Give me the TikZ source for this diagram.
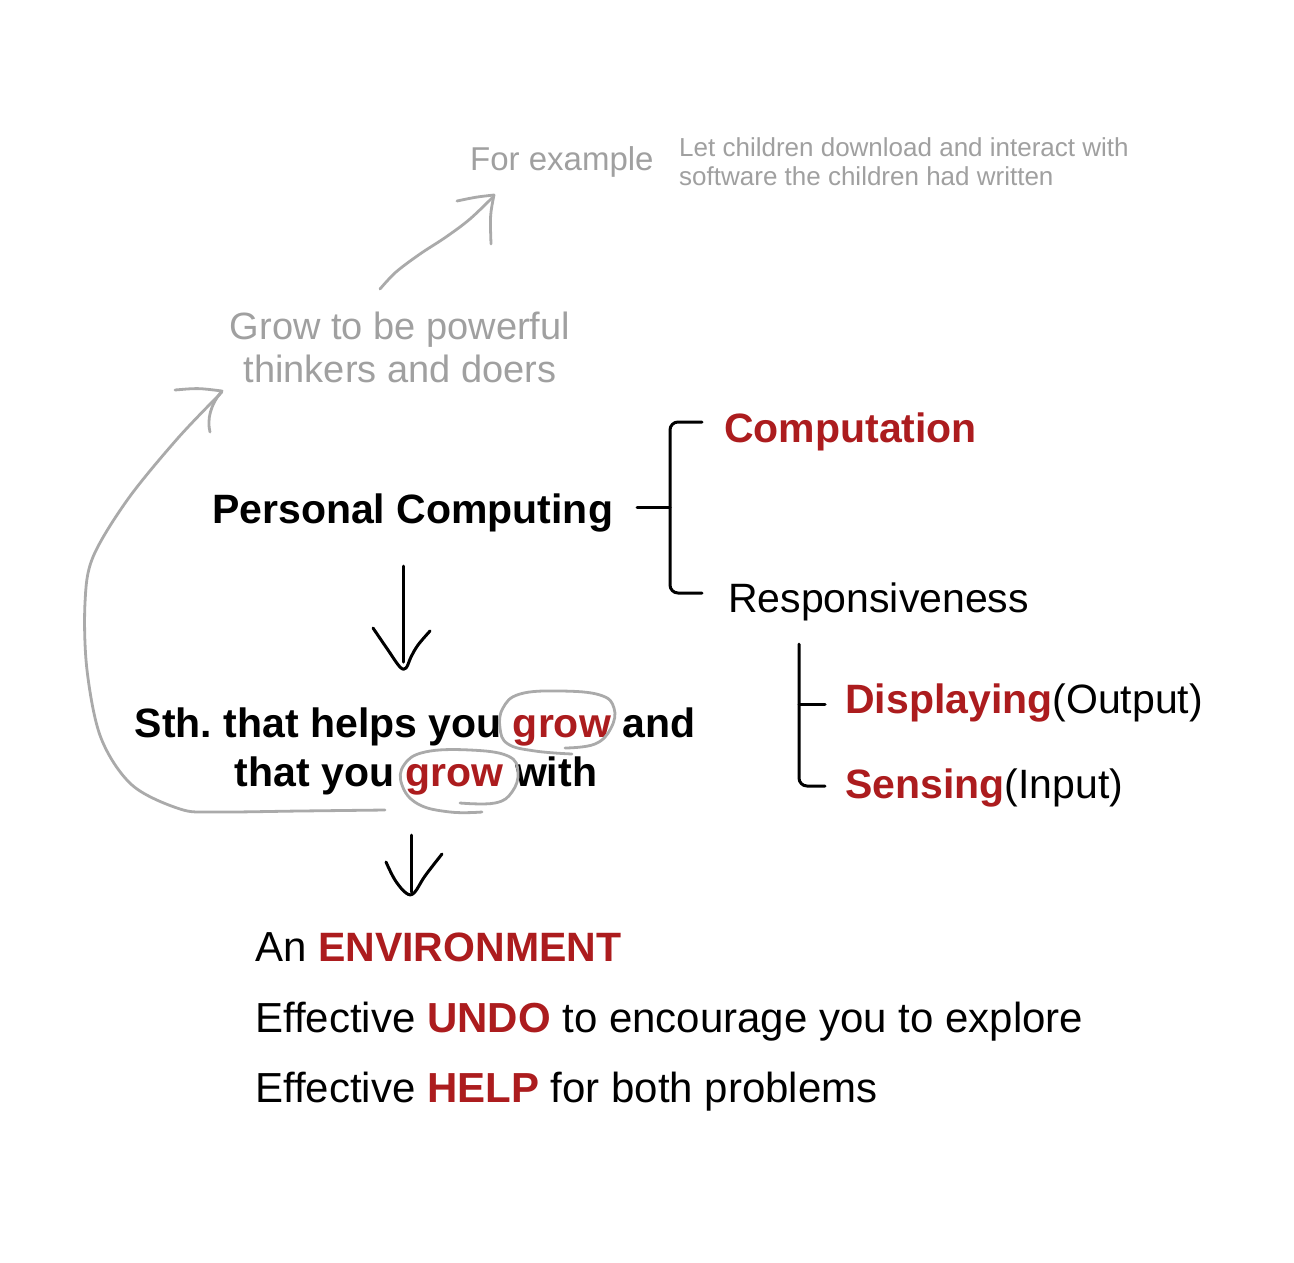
\documentclass[tikz,border=0pt]{standalone}
\usepackage{fontspec}
\setmainfont{Liberation Sans}
\frenchspacing
\definecolor{myred}{RGB}{172,28,30}
\definecolor{txtgray}{RGB}{160,160,160}
\definecolor{linegray}{RGB}{170,170,170}
\begin{document}
\begin{tikzpicture}[x=1pt,y=-1pt,
  lbl/.style={inner sep=0pt, anchor=base west, font=\fontsize{41}{49}\selectfont},
  clbl/.style={inner sep=0pt, anchor=base, font=\fontsize{41}{49}\selectfont\bfseries},
  botlbl/.style={inner sep=0pt, anchor=base west, font=\fontsize{42}{50}\selectfont},
  graylbl/.style={inner sep=0pt, text=txtgray},
  ink/.style={draw=black, line width=3pt, line cap=round, line join=round},
  pencil/.style={draw=linegray, line width=2.8pt, line cap=round, line join=round}]
\useasboundingbox[fill=white] (0,0) rectangle (1294,1262);

% gray texts
\node[graylbl, anchor=base west, font=\fontsize{33}{40}\selectfont] (fe) at (470,170) {For example};
\node[graylbl, anchor=base west, font=\fontsize{26}{30}\selectfont] (let) at (679,156) {Let children download and interact with};
\node[graylbl, anchor=base west, font=\fontsize{26}{30}\selectfont] (sw) at (679,185) {software the children had written};
\node[graylbl, anchor=base, font=\fontsize{38}{44}\selectfont] (grow1) at (400,339) {Grow to be powerful};
\node[graylbl, anchor=base, font=\fontsize{38}{44}\selectfont] (grow2) at (400,382) {thinkers and doers};

% black / red texts
\node[lbl, font=\fontsize{41}{49}\selectfont\bfseries] (pc) at (212,523) {Personal Computing};
\node[lbl, text=myred, font=\fontsize{41}{49}\selectfont\bfseries] (comp) at (724,442) {Computation};
\node[lbl] (resp) at (728,612) {Responsiveness};
\node[clbl] (sth1) at (415,737) {Sth. that helps you \textcolor{myred}{grow} and};
\node[clbl] (sth2) at (416,786) {that you \textcolor{myred}{grow} with};
\node[lbl] (disp) at (845,713) {\textbf{\textcolor{myred}{Displaying}}(Output)};
\node[lbl] (sens) at (845,798) {\textbf{\textcolor{myred}{Sensing}}(Input)};
\node[botlbl] (env) at (255,961) {An \textbf{\textcolor{myred}{\fontsize{41}{50}\selectfont ENVIRONMENT}}};
\node[botlbl] (undo) at (255,1032) {Effective \textbf{\textcolor{myred}{UNDO}} to encourage you to explore};
\node[botlbl] (help) at (255,1102) {Effective \textbf{\textcolor{myred}{HELP}} for both problems};

% bracket 1
\coordinate (b1mid) at (637,507);
\draw[ink] (b1mid) -- (670,507);
\draw[ink, rounded corners=8pt] (comp.west |- 0,422) ++(-22,0) -- (670,422) -- (670,593) -- (702,593);
% bracket 2
\draw[ink, rounded corners=8pt] (799,644) -- (799,786) -- (825,786);
\draw[ink] (799,704) -- (825,704);

% arrow Personal Computing -> Sth
\coordinate (a1s) at (403,566);
\coordinate (a1e) at (403,662);
\draw[ink] (a1s) -- (a1e);
\draw[ink] plot[smooth, tension=0.6] coordinates {(373,628)(388,650)(400,667)(406,668)(411,657)(418,645)(430,631)};

% arrow Sth -> Environment
\coordinate (a2s) at (411,835);
\coordinate (a2e) at (411,892);
\draw[ink] (a2s) -- (a2e);
\draw[ink] plot[smooth, tension=0.6] coordinates {(386,862)(395,880)(406,893)(414,893)(425,876)(442,854)};

% circles around grow
\draw[pencil] plot[smooth, tension=0.7] coordinates {(565,748)(595,744)(611,728)(614,708)(600,695)(560,691)(520,694)(503,708)(500,728)(508,744)(535,751)(572,754)};
\draw[pencil] plot[smooth, tension=0.7] coordinates {(460,803)(495,803)(512,792)(518,772)(508,756)(470,750)(425,752)(404,765)(402,785)(418,804)(450,812)(482,812)};

% big loop back arrow
\coordinate (loopstart) at (385,810);
\coordinate (looptip) at (222,392);
\draw[pencil] plot[smooth, tension=0.55] coordinates {(loopstart)(300,811)(215,812)(180,809)(132,785)(101,738)(87,670)(85,603)(93,557)(128,499)(178,438)(looptip)};
\draw[pencil] (175,390) .. controls (198,388) .. (222,391) .. controls (210,405) and (207,420) .. (210,432);

% arrow to For example
\coordinate (tstart) at (380,289);
\coordinate (ttip) at (494,196);
\draw[pencil] plot[smooth, tension=0.55] coordinates {(tstart)(396,272)(420,254)(446,237)(470,219)(ttip)};
\draw[pencil] (457,201) .. controls (476,197) .. (494,195) .. controls (490,215) .. (491,244);
\end{tikzpicture}
\end{document}
